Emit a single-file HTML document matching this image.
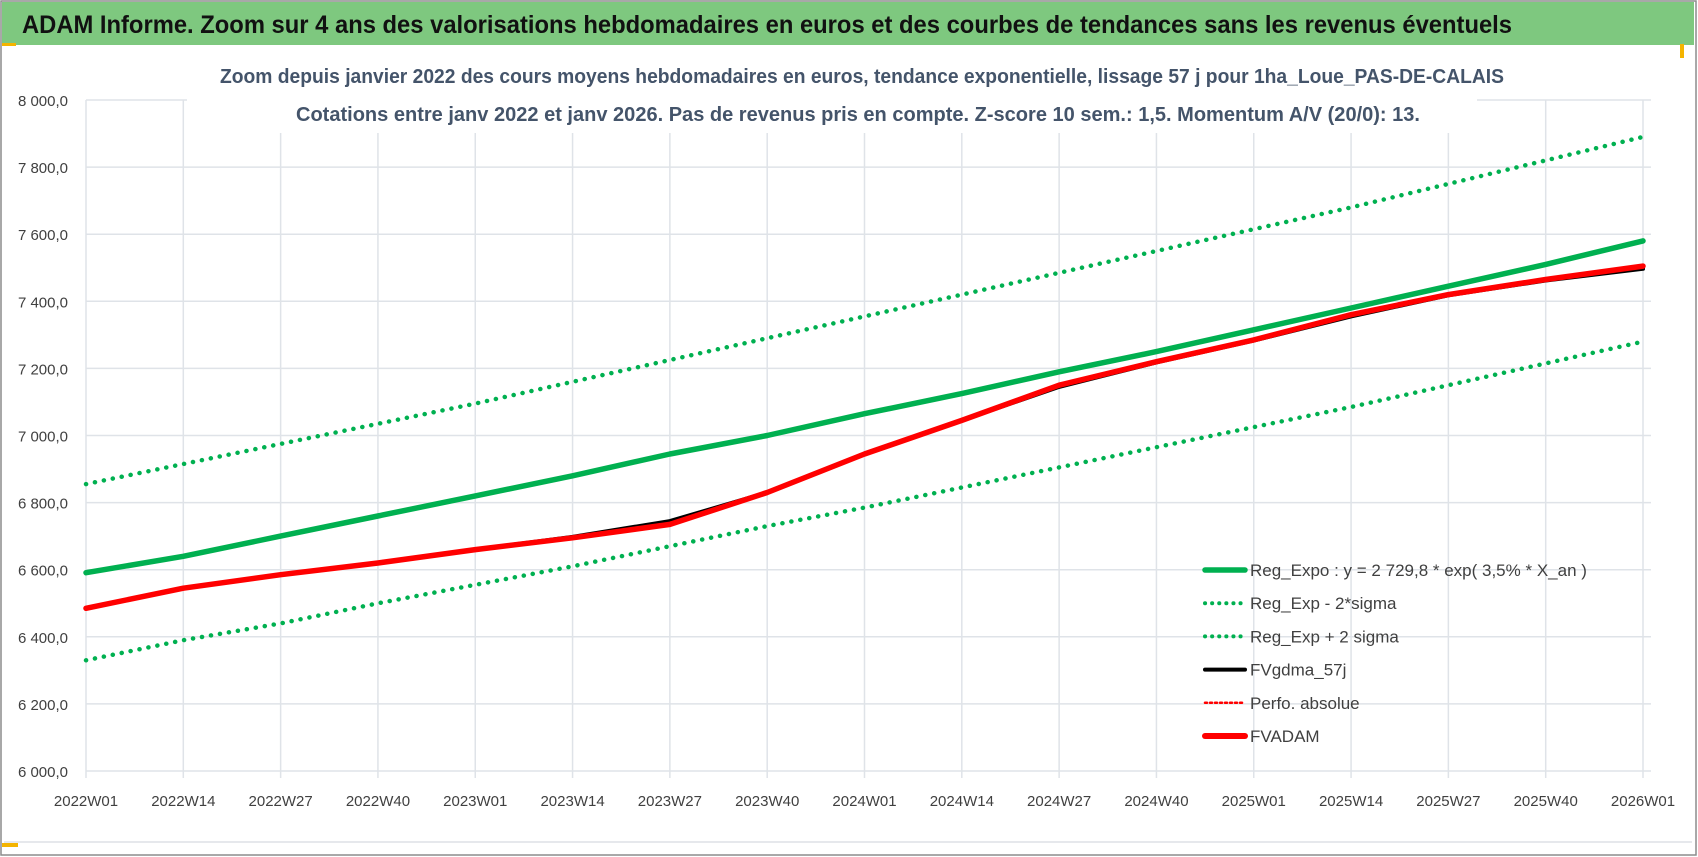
<!DOCTYPE html>
<html><head><meta charset="utf-8"><style>
html,body{margin:0;padding:0;background:#fff;}
svg{display:block;font-family:"Liberation Sans",sans-serif;}
</style></head><body>
<svg id="c" width="1698" height="857" viewBox="0 0 1698 857">
  <rect x="1" y="1" width="1695" height="854" fill="#fff" stroke="#8c8c8c" stroke-width="1.5"/>
  <rect x="2" y="2" width="1692" height="43" fill="#7ec87f"/>
  <text x="22" y="33" font-size="25" font-weight="bold" fill="#111" textLength="1490" lengthAdjust="spacingAndGlyphs">ADAM Informe. Zoom sur 4 ans des valorisations hebdomadaires en euros et des courbes de tendances sans les revenus éventuels</text>
  <rect x="2" y="43" width="14" height="3" fill="#f4b400"/>
  <rect x="1680" y="44" width="4" height="14" fill="#f4b400"/>
  <line x1="4" y1="842" x2="1692" y2="842" stroke="#dde1e6" stroke-width="1.5"/>
  <rect x="2" y="843" width="16" height="4" fill="#f4b400"/>
  <g id="grid"></g><g id="axes"></g>
  <rect x="187" y="55" width="1290" height="78" fill="#fff"/>
  <text x="862" y="83" font-size="20" font-weight="bold" fill="#44546a" text-anchor="middle" textLength="1284" lengthAdjust="spacingAndGlyphs">Zoom depuis janvier 2022 des cours moyens hebdomadaires en euros, tendance exponentielle, lissage 57 j pour 1ha_Loue_PAS-DE-CALAIS</text>
  <text x="858" y="121" font-size="20" font-weight="bold" fill="#44546a" text-anchor="middle" textLength="1124" lengthAdjust="spacingAndGlyphs">Cotations entre janv 2022 et janv 2026. Pas de revenus pris en compte. Z-score 10 sem.: 1,5. Momentum A/V (20/0):  13.</text>
  <g id="series"></g><g id="legend"></g>
</svg>
<script>
const categories=["2022W01","2022W14","2022W27","2022W40","2023W01","2023W14","2023W27","2023W40","2024W01","2024W14","2024W27","2024W40","2025W01","2025W14","2025W27","2025W40","2026W01"];
const yTicks=[6000,6200,6400,6600,6800,7000,7200,7400,7600,7800,8000];
const yTickLabels=["6 000,0","6 200,0","6 400,0","6 600,0","6 800,0","7 000,0","7 200,0","7 400,0","7 600,0","7 800,0","8 000,0"];
const regExpo=[6591,6640,6700,6760,6820,6880,6945,7000,7065,7125,7190,7250,7315,7380,7445,7510,7580];
const regMinus=[6330,6390,6440,6500,6555,6610,6670,6730,6785,6845,6905,6965,7025,7085,7150,7215,7280];
const regPlus=[6855,6915,6975,7035,7095,7160,7225,7290,7355,7420,7485,7550,7615,7680,7750,7820,7890];
const fvgdma=[6485,6545,6585,6620,6660,6698,6745,6830,6945,7045,7145,7218,7283,7355,7418,7462,7497];
const fvadam=[6485,6545,6585,6620,6660,6695,6735,6830,6945,7045,7150,7220,7285,7360,7420,7465,7505];
const legendLabels=["Reg_Expo : y = 2 729,8 * exp( 3,5% *  X_an )","Reg_Exp - 2*sigma","Reg_Exp + 2 sigma","FVgdma_57j","Perfo. absolue","FVADAM"];

const NS="http://www.w3.org/2000/svg";
const X0=86,X1=1643,Y0=771,Y1=100,PR=1651;
const xs=i=>X0+(X1-X0)*i/(categories.length-1);
const ys=v=>Y0-(v-6000)/2000*(Y0-Y1);
function mk(tag,attrs,parent,txt){const e=document.createElementNS(NS,tag);for(const k in attrs)e.setAttribute(k,attrs[k]);if(txt!==undefined)e.textContent=txt;parent.appendChild(e);return e;}
const grid=document.getElementById('grid'),axes=document.getElementById('axes'),ser=document.getElementById('series'),leg=document.getElementById('legend');
yTicks.forEach((v,i)=>{
  const l=mk('line',{x1:X0,x2:PR,y1:ys(v),y2:ys(v),stroke:'#dfe3e8','stroke-width':1.5},grid);
  
  
  const t=mk('text',{x:68,y:ys(v)+6,'font-size':15,fill:'#404040','text-anchor':'end'},axes,yTickLabels[i]);
  
  
});
categories.forEach((c,i)=>{
  const l=mk('line',{x1:xs(i),x2:xs(i),y1:Y1,y2:Y0+7,stroke:'#dfe3e8','stroke-width':1.5},grid);
  
  
  const t=mk('text',{x:xs(i),y:806,'font-size':15,fill:'#404040','text-anchor':'middle'},axes,c);
  
  
});
function pts(arr){return arr.map((v,i)=>xs(i).toFixed(1)+','+ys(v).toFixed(1)).join(' ');}
const styles=[
 {arr:regMinus,stroke:'#00b050',w:4.5,dash:'0.1 9',name:'series-reg-exp-minus-2sigma'},
 {arr:regPlus,stroke:'#00b050',w:4.5,dash:'0.1 9',name:'series-reg-exp-plus-2sigma'},
 {arr:regExpo,stroke:'#00b050',w:5.5,dash:'',name:'series-reg-expo'},
 {arr:fvgdma,stroke:'#000',w:4,dash:'',name:'series-fvgdma-57j'},
 {arr:fvadam,stroke:'#ff0000',w:5.5,dash:'',name:'series-fvadam'}
];
styles.forEach(s=>{
  const p=mk('polyline',{points:pts(s.arr),fill:'none',stroke:s.stroke,'stroke-width':s.w,'stroke-linecap':'round','stroke-linejoin':'round'},ser);
  if(s.dash)p.setAttribute('stroke-dasharray',s.dash);
  
  
});
const legStyles=[['#00b050',5.5,''],['#00b050',4,'0.1 7'],['#00b050',4,'0.1 7'],['#000',4,''],['#ff0000',2.5,'2 3'],['#ff0000',6,'']];
legendLabels.forEach((lab,i)=>{
  const y=570+i*33.2;
  const g=mk('g',{},leg);
  
  
  const st=legStyles[i];
  const l=mk('line',{x1:1205,x2:1245,y1:y,y2:y,stroke:st[0],'stroke-width':st[1],'stroke-linecap':'round'},g);
  if(st[2])l.setAttribute('stroke-dasharray',st[2]);
  
  
  const t=mk('text',{x:1250,y:y+6,'font-size':17,fill:'#404040'},g,lab);
  
  
});
</script>
</body></html>
